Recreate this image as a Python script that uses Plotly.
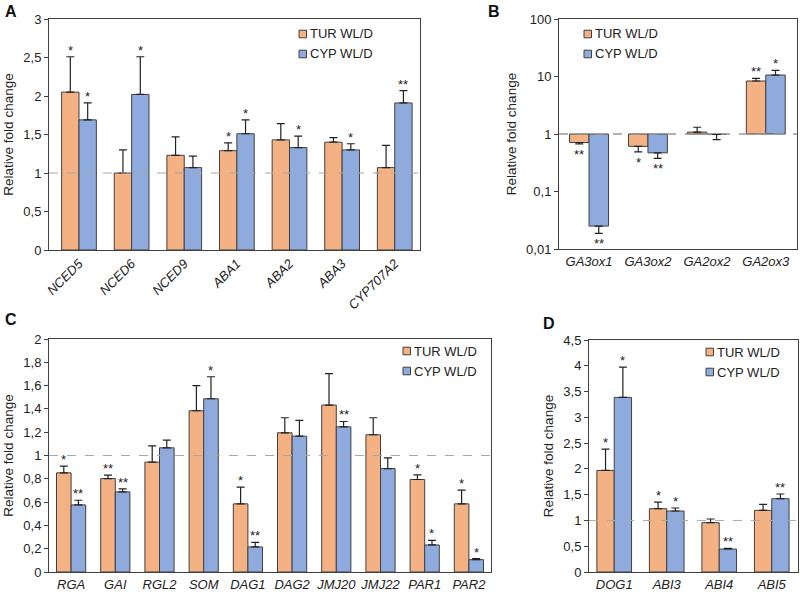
import plotly.graph_objs as go
import numpy as np

# A: ABA metabolism genes (error values = end of error bar)
genes_a = ['NCED5', 'NCED6', 'NCED9', 'ABA1', 'ABA2', 'ABA3', 'CYP707A2']
tur_a = [2.05, 1.00, 1.23, 1.29, 1.43, 1.40, 1.07]
tur_a_err = [2.51, 1.30, 1.47, 1.39, 1.64, 1.46, 1.36]
cyp_a = [1.69, 2.02, 1.07, 1.51, 1.33, 1.30, 1.91]
cyp_a_err = [1.91, 2.51, 1.22, 1.69, 1.48, 1.38, 2.07]
tur_a_sig = ['*', '', '', '*', '', '', '']
cyp_a_sig = ['*', '*', '', '*', '*', '*', '**']

# B: GA metabolism genes (log scale)
genes_b = ['GA3ox1', 'GA3ox2', 'GA2ox2', 'GA2ox3']
tur_b = [0.71, 0.61, 1.08, 8.35]
tur_b_err = [0.67, 0.49, 1.31, 9.3]
cyp_b = [0.025, 0.47, 0.98, 10.6]
cyp_b_err = [0.0187, 0.377, 0.80, 12.8]
tur_b_sig = ['**', '*', '', '**']
cyp_b_sig = ['**', '**', '', '*']

# C: GA signalling / dormancy genes
genes_c = ['RGA', 'GAI', 'RGL2', 'SOM', 'DAG1', 'DAG2', 'JMJ20', 'JMJ22', 'PAR1', 'PAR2']
tur_c = [0.851, 0.802, 0.943, 1.384, 0.585, 1.195, 1.433, 1.178, 0.794, 0.585]
tur_c_err = [0.908, 0.831, 1.083, 1.599, 0.728, 1.324, 1.702, 1.324, 0.834, 0.702]
cyp_c = [0.576, 0.688, 1.066, 1.487, 0.215, 1.166, 1.246, 0.888, 0.232, 0.106]
cyp_c_err = [0.616, 0.713, 1.132, 1.676, 0.255, 1.301, 1.292, 0.980, 0.272, 0.115]
tur_c_sig = ['*', '**', '', '', '*', '', '', '', '*', '*']
cyp_c_sig = ['**', '**', '', '*', '**', '', '**', '', '*', '*']

# D: ABA signalling genes
genes_d = ['DOG1', 'ABI3', 'ABI4', 'ABI5']
tur_d = [1.97, 1.228, 0.957, 1.196]
tur_d_err = [2.385, 1.357, 1.028, 1.312]
cyp_d = [3.387, 1.183, 0.446, 1.422]
cyp_d_err = [3.975, 1.241, 0.459, 1.513]
tur_d_sig = ['*', '*', '', '']
cyp_d_sig = ['*', '*', '**', '**']

series_names = ['TUR WL/D', 'CYP WL/D']

ORANGE = '#F4B183'
BLUE = '#8FAADC'
EDGE = '#404040'
TEXT = '#222222'
FONT = 'Liberation Sans, Arial, sans-serif'
W, H = 800, 597
BARGAP = 0.34


def px_x(p):
    return p / W


def px_y(p):
    return 1 - p / H


def make_bar(name, genes, vals, ends, color, xa, ya, base=None):
    vals = np.array(vals)
    ends = np.array(ends)
    up = np.clip(ends - vals, 0, None)
    down = np.clip(vals - ends, 0, None)
    y = vals if base is None else vals - base
    return go.Bar(
        x=genes, y=y, base=base, name=name,
        xaxis=xa, yaxis=ya, showlegend=False,
        marker=dict(color=color, line=dict(color=EDGE, width=1)),
        error_y=dict(type='data', symmetric=False, array=up, arrayminus=down,
                     color=TEXT, thickness=1.2, width=4),
        hoverinfo='skip')


def star_notes(sig, ends, vals, shift, xref, yref, log=False):
    notes = []
    for i, s in enumerate(sig):
        if not s:
            continue
        below = ends[i] < vals[i]
        yv = np.log10(ends[i]) if log else ends[i]
        notes.append(dict(
            x=i + shift, y=yv, xref=xref, yref=yref, text=s, showarrow=False,
            xanchor='center', yanchor='top' if below else 'bottom',
            yshift=-1 if below else -3,
            font=dict(size=13, color=TEXT, family=FONT)))
    return notes


fig = go.Figure()
off = (1 - BARGAP) / 4
annotations = []
shapes = []

panels = [
    ('x', 'y', genes_a, tur_a, tur_a_err, cyp_a, cyp_a_err, tur_a_sig, cyp_a_sig, None),
    ('x2', 'y2', genes_b, tur_b, tur_b_err, cyp_b, cyp_b_err, tur_b_sig, cyp_b_sig, 1),
    ('x3', 'y3', genes_c, tur_c, tur_c_err, cyp_c, cyp_c_err, tur_c_sig, cyp_c_sig, None),
    ('x4', 'y4', genes_d, tur_d, tur_d_err, cyp_d, cyp_d_err, tur_d_sig, cyp_d_sig, None),
]
for xa, ya, genes, tv, te, cv, ce, ts, cs, base in panels:
    fig.add_trace(make_bar(series_names[0], genes, tv, te, ORANGE, xa, ya, base))
    fig.add_trace(make_bar(series_names[1], genes, cv, ce, BLUE, xa, ya, base))
    annotations += star_notes(ts, te, tv, -off, xa, ya, log=base is not None)
    annotations += star_notes(cs, ce, cv, off, xa, ya, log=base is not None)
    # dashed reference line at fold change 1
    shapes.append(dict(type='line', xref=xa + ' domain', yref=ya, x0=0, x1=1, y0=1, y1=1,
                       layer='above',
                       line=dict(color='#A8A8A8' if base is None else '#999999',
                                 width=1 if base is None else 1.6,
                                 dash='dash')))

# small boxed legends (text start x, row centres y) in pixels
legend_spots = [(308, 34, 54), (593, 34, 54), (412, 351, 371), (715, 352, 372)]
for tx, r1, r2 in legend_spots:
    for name, color, ry in [(series_names[0], ORANGE, r1), (series_names[1], BLUE, r2)]:
        shapes.append(dict(type='rect', xref='paper', yref='paper',
                           x0=px_x(tx - 9), x1=px_x(tx - 1.5),
                           y0=px_y(ry + 3.8), y1=px_y(ry - 3.8),
                           fillcolor=color, line=dict(color=EDGE, width=1)))
        annotations.append(dict(x=px_x(tx), y=px_y(ry), xref='paper', yref='paper',
                                text=name, showarrow=False,
                                xanchor='left', yanchor='middle',
                                font=dict(size=13, color=TEXT, family=FONT)))

for letter, lx, ly in [('A', 3, 12), ('B', 486, 11), ('C', 3, 319), ('D', 541, 323)]:
    annotations.append(dict(x=px_x(lx), y=px_y(ly), xref='paper', yref='paper',
                            text='<b>%s</b>' % letter, showarrow=False,
                            xanchor='left', yanchor='middle',
                            font=dict(size=16, color='#111111', family=FONT)))

tickfont = dict(size=13, color=TEXT, family=FONT)
xfont = dict(size=13, color=TEXT, family=FONT, style='italic')
common_x = dict(showline=True, linecolor=EDGE, linewidth=1, mirror=True, ticks='',
                showgrid=False, zeroline=False, tickfont=xfont, type='category',
                automargin=False)
common_y = dict(showline=True, linecolor=EDGE, linewidth=1, mirror=True, ticks='outside',
                ticklen=4, tickcolor=EDGE, showgrid=False, zeroline=False,
                tickfont=tickfont, automargin=False,
                title=dict(text='Relative fold change', standoff=6,
                           font=dict(size=13.5, color=TEXT, family=FONT)))

fig.update_layout(
    width=W, height=H,
    margin=dict(l=0, r=0, t=0, b=0, autoexpand=False),
    paper_bgcolor='white', plot_bgcolor='white',
    separators=', ',
    barmode='group', bargap=BARGAP, bargroupgap=0,
    font=dict(family=FONT, color=TEXT),
    showlegend=False,
    xaxis=dict(common_x, domain=[px_x(49), px_x(420)], range=[-0.57, 6.48],
               anchor='y', tickangle=-45),
    yaxis=dict(common_y, domain=[px_y(250), px_y(19)], range=[0, 3], dtick=0.5,
               anchor='x'),
    xaxis2=dict(common_x, domain=[px_x(559), px_x(797)], range=[-0.51, 3.53],
                anchor='y2'),
    yaxis2=dict(common_y, domain=[px_y(249), px_y(19)], type='log', range=[-2, 2],
                tickvals=[0.01, 0.1, 1, 10, 100],
                ticktext=['0,01', '0,1', '1', '10', '100'], anchor='x2'),
    xaxis3=dict(common_x, domain=[px_x(49), px_x(491)], range=[-0.5, 9.5],
                anchor='y3'),
    yaxis3=dict(common_y, domain=[px_y(572), px_y(339)], range=[0, 2], dtick=0.2,
                anchor='x3'),
    xaxis4=dict(common_x, domain=[px_x(589), px_x(798)], range=[-0.48, 3.5],
                anchor='y4'),
    yaxis4=dict(common_y, domain=[px_y(572), px_y(340)], range=[0, 4.5], dtick=0.5,
                anchor='x4'),
    annotations=annotations,
    shapes=shapes,
)

# page body has a default 8px margin; drop it so the figure fills the window
fig.write_html("out.html", config={'displayModeBar': False},
               post_script="document.body.style.margin='0';")
